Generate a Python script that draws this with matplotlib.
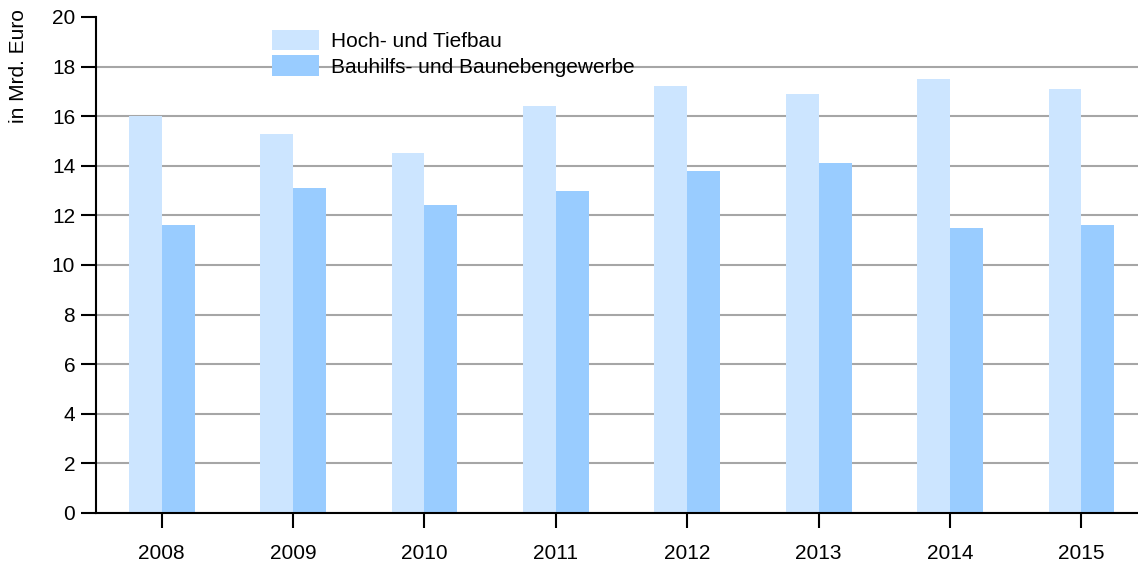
import numpy as np
import matplotlib
matplotlib.use("Agg")
import matplotlib.pyplot as plt

# Umsatz im Baugewerbe, in Mrd. Euro
years = ["2008", "2009", "2010", "2011", "2012", "2013", "2014", "2015"]
hoch_tiefbau = [16.0, 15.3, 14.5, 16.4, 17.2, 16.9, 17.5, 17.1]
bauhilfs = [11.6, 13.1, 12.4, 13.0, 13.8, 14.1, 11.5, 11.6]

plt.rcParams['font.family'] = ['Liberation Sans', 'DejaVu Sans']

fig = plt.figure(figsize=(11.38, 5.66), dpi=100)
ax = fig.add_axes([96 / 1138, 1 - 513 / 566, 1 - 96 / 1138, (513 - 17) / 566])

x = np.arange(len(years))
w = 0.25
ax.bar(x - w / 2, hoch_tiefbau, w, color='#cce5ff', label='Hoch- und Tiefbau')
ax.bar(x + w / 2, bauhilfs, w, color='#99ccff', label='Bauhilfs- und Baunebengewerbe')

ax.set_xlim(-0.5, 7.43)
ax.set_ylim(0, 20)
ax.set_yticks(np.arange(0, 21, 2))
ax.set_xticks(x)
ax.set_xticklabels(years)
ax.set_axisbelow(True)
ax.yaxis.grid(True, color='#a6a6a6', linewidth=1.5)
ax.get_ygridlines()[-1].set_visible(False)

for s in ['top', 'right']:
    ax.spines[s].set_visible(False)
ax.spines['left'].set_linewidth(1.5)
ax.spines['bottom'].set_linewidth(1.5)
ax.tick_params(axis='both', length=11, width=1.5, labelsize=15)
ax.tick_params(axis='x', pad=11)
ax.tick_params(axis='y', pad=4)

fig.text(19 / 1138, 1 - 9 / 566, 'in Mrd. Euro', rotation=90, ha='center', va='top', fontsize=15)

ax.legend(loc='upper left', bbox_to_anchor=(272 / 1138, 1 - 30 / 566),
          bbox_transform=fig.transFigure, frameon=False, fontsize=15,
          borderpad=0, borderaxespad=0, handlelength=2.25, handleheight=1.12,
          labelspacing=0.2, handletextpad=0.6)

plt.savefig('out.png', dpi=100)
